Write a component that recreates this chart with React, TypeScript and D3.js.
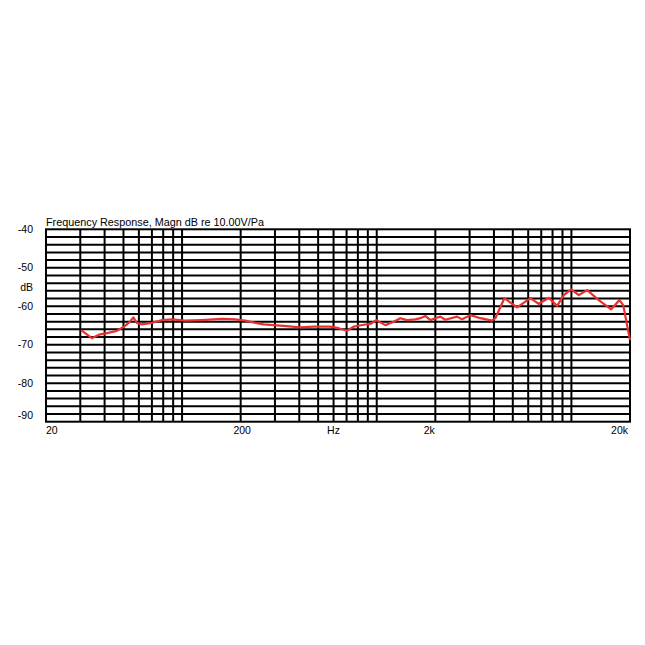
import React from "react";
import * as d3 from "d3";

const freqs = [30.3, 34.4, 37.9, 41.8, 46.2, 51, 54, 56.2, 58.5, 62, 70, 79, 88.5, 104, 126, 160, 187, 211, 238, 262, 332, 405, 473, 577, 637, 703, 761, 856, 927, 994, 1107, 1221, 1321, 1430, 1578, 1675, 1777, 1886, 2000, 2122, 2251, 2586, 2742, 3028, 3407, 3913, 4068, 4526, 5260, 6156, 6794, 7648, 8450, 9138, 9974, 10912, 12050, 13826, 16010, 17660, 18456, 20000];
const magnitudes = [-66.2, -68.3, -67.3, -66.9, -66.4, -65.1, -64.0, -62.9, -64.3, -64.7, -64.3, -63.6, -63.4, -63.75, -63.6, -63.3, -63.4, -63.75, -64.3, -64.7, -65.1, -65.5, -65.3, -65.3, -65.7, -66.35, -65.3, -64.8, -64.6, -63.6, -64.9, -64.0, -63.1, -63.6, -63.4, -63.1, -62.5, -63.6, -63.1, -62.7, -63.5, -62.7, -63.4, -62.3, -63.1, -63.75, -63.1, -57.9, -60.3, -57.9, -59.4, -57.8, -59.9, -57.1, -55.6, -57.1, -55.8, -58.4, -60.8, -58.4, -59.7, -68.8];

const verticalLines = [30, 40, 50, 60, 70, 80, 90, 100, 200, 300, 400, 500, 600, 700, 800, 900, 1000, 2000, 3000, 4000, 5000, 6000, 7000, 8000, 9000, 10000];
const horizontalLines = d3.range(-88, -40, 2);
const yTickValues = [-40, -50, -60, -70, -80, -90];
const title = "Frequency Response, Magn dB re 10.00V/Pa";
const yUnit = "dB";
const xTickLabels = [
  { f: 20, label: "20", anchor: "start", dx: 0 },
  { f: 200, label: "200", anchor: "middle", dx: 1.5 },
  { f: 600, label: "Hz", anchor: "middle", dx: 0 },
  { f: 2000, label: "2k", anchor: "end", dx: -0.5 },
  { f: 20000, label: "20k", anchor: "end", dx: -2 },
];

export default function App() {
  const left = 46, right = 630, top = 229.3, bottom = 421.7;
  const x = d3.scaleLog().domain([20, 20000]).range([left, right]);
  const y = d3.scaleLinear().domain([-90, -40]).range([bottom, top]);
  const pts: [number, number][] = freqs.map((f, i) => [f, magnitudes[i]]);
  const line = d3.line<[number, number]>().x(d => x(d[0])).y(d => y(d[1]));
  const font = "'Liberation Sans', Arial, sans-serif";
  return (
    <svg width={645} height={645} style={{ position: "absolute", left: 0, top: 0, background: "#fff" }} fontFamily={font}>
      <rect x={0} y={0} width={645} height={645} fill="#fff" />
      {horizontalLines.map(v => (
        <line key={"h" + v} x1={left} x2={right} y1={y(v)} y2={y(v)} stroke="#000" strokeWidth={2} />
      ))}
      {verticalLines.map(f => (
        <line key={"v" + f} x1={x(f)} x2={x(f)} y1={top} y2={bottom} stroke="#000" strokeWidth={2} />
      ))}
      <rect x={left} y={top} width={right - left} height={bottom - top} fill="none" stroke="#000" strokeWidth={2} />
      <path d={line(pts) || ""} fill="none" stroke="#e8302e" strokeWidth={2.2} strokeLinejoin="round" />
      <text x={left} y={226} fontSize={10} textLength={218} lengthAdjust="spacingAndGlyphs" fill="#000">{title}</text>
      {yTickValues.map(v => (
        <text key={"yt" + v} x={33} y={v === -90 ? y(v) - 2.5 : y(v) + 3.5} fontSize={10.5} textAnchor="end" fill="#000">{String(v)}</text>
      ))}
      <text x={33} y={y(-55) + 3.5} fontSize={10.5} textAnchor="end" fill="#000">{yUnit}</text>
      {xTickLabels.map(t => (
        <text key={"xt" + t.label} x={x(t.f) + t.dx} y={434} fontSize={10.5} textAnchor={t.anchor as any} fill="#000">{t.label}</text>
      ))}
    </svg>
  );
}
